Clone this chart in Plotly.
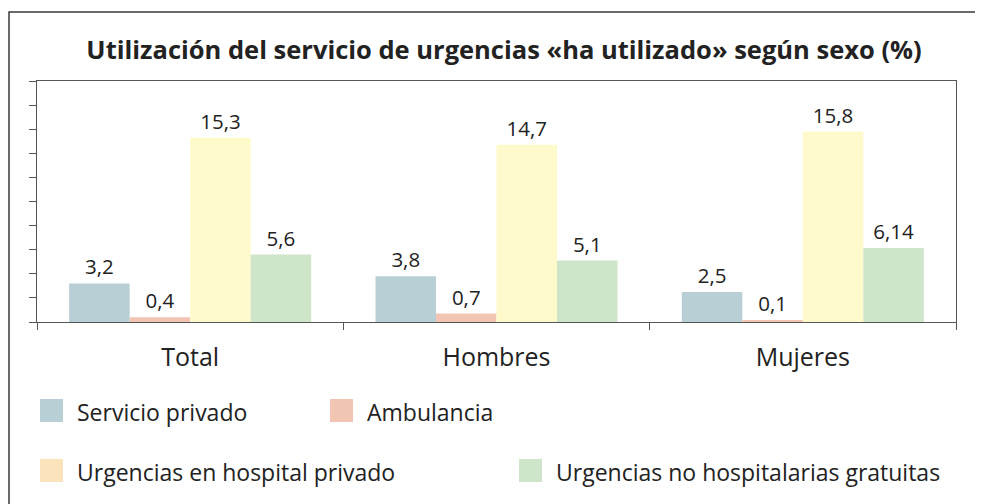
import plotly.graph_objects as go

categories = ["Total", "Hombres", "Mujeres"]
series_names = ["Servicio privado", "Ambulancia", "Urgencias en hospital privado",
                "Urgencias no hospitalarias gratuitas"]
servicio_privado = [3.2, 3.8, 2.5]
ambulancia = [0.4, 0.7, 0.1]
urg_hospital_privado = [15.3, 14.7, 15.8]
urg_no_hospitalarias = [5.6, 5.1, 6.14]

series_values = [servicio_privado, ambulancia, urg_hospital_privado, urg_no_hospitalarias]
bar_colors = ["#b8cfd5", "#f2c5b3", "#fffacc", "#cfe5c9"]
legend_colors = ["#b8cfd5", "#f2c5b3", "#fbe3bc", "#cfe5c9"]

W, H = 983, 504
OFF = 8  # page body margin
L, R, T, B = 37 - OFF, 956 - OFF, 81 - OFF, 322 - OFF  # plot area in figure pixels

FONT = "Open Sans"

fig = go.Figure()
for name, vals, col in zip(series_names, series_values, bar_colors):
    fig.add_trace(go.Bar(
        x=categories, y=vals, name=name,
        marker=dict(color=col, line=dict(width=0)),
        text=[str(v).replace(".", ",") for v in vals],
        textposition="outside", cliponaxis=False,
        textfont=dict(family=FONT, size=20.5, color="#222222"),
        showlegend=False,
    ))

def px_x(px):
    return (px - OFF - L) / (R - L)

def px_y(py):
    return (B - (py - OFF)) / (B - T)

shapes = []
annotations = []
# outer frame
shapes.append(dict(type="rect", xref="paper", yref="paper",
                   x0=px_x(9), x1=px_x(1010), y0=px_y(12), y1=px_y(530),
                   line=dict(color="#3a3a3a", width=1.5), fillcolor="rgba(0,0,0,0)",
                   layer="below"))

# legend: swatches + labels
legend_pos = [(40, 410.5), (330, 410.5), (40, 470.5), (519, 470.5)]
for (x0, yc), name, col in zip(legend_pos, series_names, legend_colors):
    shapes.append(dict(type="rect", xref="paper", yref="paper",
                       x0=px_x(x0), x1=px_x(x0 + 23), y0=px_y(yc - 11.5), y1=px_y(yc + 11.5),
                       line=dict(width=0), fillcolor=col))
    annotations.append(dict(xref="paper", yref="paper", x=px_x(x0 + 35), y=px_y(yc + 1),
                            text=name, showarrow=False, xanchor="left", yanchor="middle",
                            font=dict(family=FONT, size=23, color="#222222")))

fig.update_layout(
    width=W, height=H,
    margin=dict(l=L, r=W - R, t=T, b=H - B, pad=0),
    paper_bgcolor="white", plot_bgcolor="white",
    barmode="group", bargap=0.21, bargroupgap=0,
    title=dict(text="<b>Utilización del servicio de urgencias «ha utilizado» según sexo (%)</b>",
               x=px_x(504), xanchor="center", xref="paper", y=1 - (50 - OFF) / H, yanchor="middle",
               font=dict(family=FONT, size=25.5, color="#222222")),
    xaxis=dict(type="category", tickson="boundaries", ticks="outside", ticklen=7,
               tickcolor="#555555", tickwidth=1, showline=True, linecolor="#555555",
               linewidth=1, mirror=True, showgrid=False,
               tickfont=dict(family=FONT, size=25, color="#222222"),
               ticklabelstandoff=13),
    yaxis=dict(range=[0, 20], dtick=2, ticks="outside", ticklen=7, tickcolor="#555555",
               tickwidth=1, showticklabels=False, showline=True, linecolor="#555555",
               linewidth=1, mirror=True, showgrid=False, zeroline=False, fixedrange=True),
    shapes=shapes, annotations=annotations,
    font=dict(family=FONT),
)

fig.write_html("out.html")
